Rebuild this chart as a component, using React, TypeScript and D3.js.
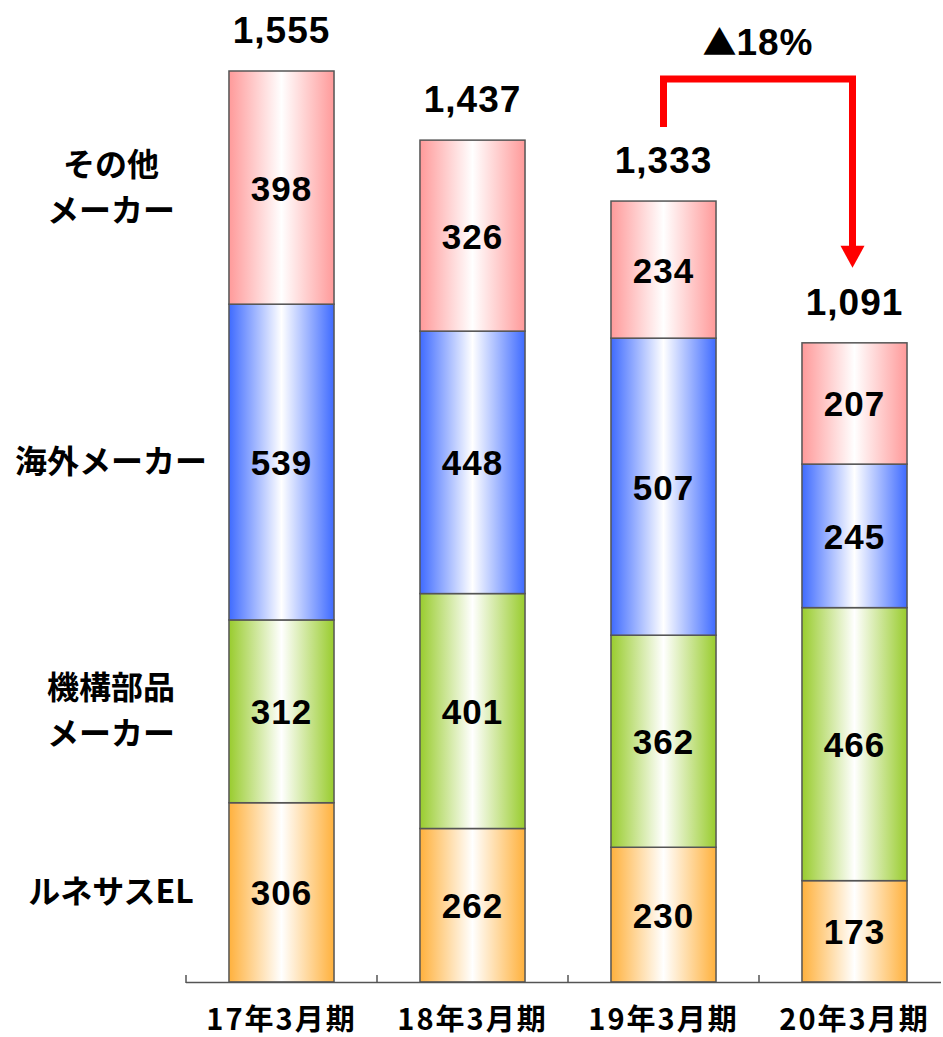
import React from "react";
import * as d3 from "d3";

const categories = ["17年3月期", "18年3月期", "19年3月期", "20年3月期"];
const seriesNames = ["ルネサスEL", "機構部品メーカー", "海外メーカー", "その他メーカー"];
const renesas = [306, 262, 230, 173];
const kikou = [312, 401, 362, 466];
const kaigai = [539, 448, 507, 245];
const sonota = [398, 326, 234, 207];
const totals = [1555, 1437, 1333, 1091];
const changeMark = "▲";
const changeLabel = "18%";

const seriesValues = [renesas, kikou, kaigai, sonota];
const colors = ["#FFB13D", "#99CC2E", "#3F6BFF", "#FF9A9A"];
const leftLabels = [["ルネサスEL"], ["機構部品", "メーカー"], ["海外メーカー"], ["その他", "メーカー"]];

export default function App() {
  const W = 943, H = 1037;
  const x = d3.scaleBand().domain(categories).range([186, 950]).paddingInner(0.45).paddingOuter(0.225);
  const y = d3.scaleLinear().domain([0, 1555]).range([982, 71]);
  const bw = x.bandwidth();
  const stack = d3.stack<any>().keys(seriesNames.map((_, i) => String(i)))(
    categories.map((c, ci) => {
      const o: any = { c };
      seriesValues.forEach((s, si) => (o[String(si)] = s[ci]));
      return o;
    })
  );
  const font = "Liberation Sans, Arial, sans-serif";
  const jfont = "Noto Sans CJK JP, sans-serif";
  const cx = (i: number) => (x(categories[i]) as number) + bw / 2;
  const xs = cx(2), xe = cx(3) - 2;
  const topY = 79;
  const tipY = y(totals[3]) - 75;
  return (
    <svg width={W} height={H} style={{ position: "absolute", left: 0, top: 0 }}>
      <defs>
        {colors.map((c, i) => (
          <linearGradient key={i} id={`g${i}`} x1="0" x2="1" y1="0" y2="0">
            <stop offset="0" stopColor={c} />
            <stop offset="0.5" stopColor="#ffffff" />
            <stop offset="1" stopColor={c} />
          </linearGradient>
        ))}
      </defs>
      <rect width={W} height={H} fill="#fff" />
      {stack.map((layer, si) =>
        layer.map((d, ci) => {
          const x0 = x(categories[ci]) as number;
          const y0 = y(d[1]), y1 = y(d[0]);
          return (
            <g key={`${si}-${ci}`}>
              <rect x={x0} y={y0} width={bw} height={y1 - y0} fill={`url(#g${si})`} stroke="#555" strokeWidth={1.5} />
              <text x={x0 + bw / 2} y={(y0 + y1) / 2 + 13} textAnchor="middle" fontFamily={font} fontWeight="bold" fontSize={35} letterSpacing={1} fill="#000">
                {seriesValues[si][ci]}
              </text>
            </g>
          );
        })
      )}
      {totals.map((t, i) => (
        <text key={i} x={cx(i)} y={y(t) - 28} textAnchor="middle" fontFamily={font} fontSize={37} fontWeight="bold" letterSpacing={1} fill="#000">
          {d3.format(",")(t)}
        </text>
      ))}
      <line x1={186} x2={941} y1={982.5} y2={982.5} stroke="#555" strokeWidth={1.5} />
      {[0, 1, 2, 3, 4].map((i) => {
        const tx = 186 + i * x.step();
        return <line key={i} x1={tx} x2={tx} y1={975} y2={983} stroke="#555" strokeWidth={1.5} />;
      })}
      {categories.map((c, i) => (
        <text key={c} x={cx(i)} y={1030} textAnchor="middle" fontFamily={jfont} fontWeight="bold" fontSize={29} letterSpacing={2} fill="#000">
          {c}
        </text>
      ))}
      {leftLabels.map((lines, si) => {
        const s = stack[si][0];
        const mid = (y(s[0]) + y(s[1])) / 2;
        return (
          <text key={si} x={111} textAnchor="middle" fontFamily={jfont} fontWeight="bold" fontSize={32} fill="#000">
            {lines.map((l, li) => (
              <tspan key={li} x={111} y={mid + 11 + (li - (lines.length - 1) / 2) * 46}>{l}</tspan>
            ))}
          </text>
        );
      })}
      <path d={`M${xs},127 V${topY} H${xe} V${tipY - 20}`} fill="none" stroke="#ff0000" strokeWidth={7} />
      <path d={`M${xe - 12},${tipY - 22} L${xe + 12},${tipY - 22} L${xe},${tipY} Z`} fill="#ff0000" />
      <text x={(xs + xe) / 2} y={55} textAnchor="middle" fontSize={37} fontWeight="bold" fill="#000">
        <tspan fontFamily={jfont} fontSize={34}>{changeMark}</tspan>
        <tspan fontFamily={font} letterSpacing={1}>{changeLabel}</tspan>
      </text>
    </svg>
  );
}
